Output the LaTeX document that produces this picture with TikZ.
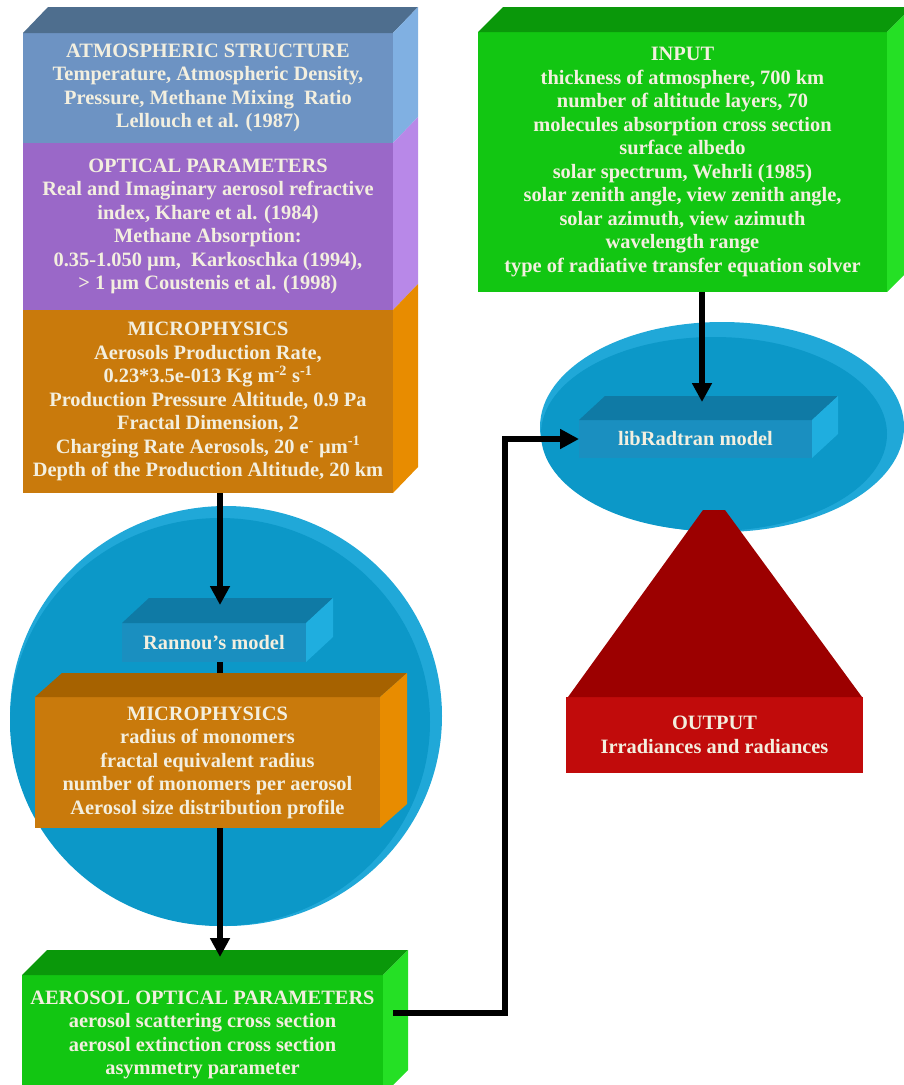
\documentclass[tikz,border=0pt]{standalone}
\usepackage{fontspec}
\setmainfont{Liberation Serif}
\usepackage{xcolor}
\definecolor{creamText}{HTML}{F3EFDF}
\definecolor{atmFront}{HTML}{6D93C3}
\definecolor{atmTop}{HTML}{4E6E8E}
\definecolor{atmSide}{HTML}{80B0E2}
\definecolor{optFront}{HTML}{9A68C8}
\definecolor{optSide}{HTML}{B888E8}
\definecolor{micFront}{HTML}{C97A0C}
\definecolor{micTop}{HTML}{A66200}
\definecolor{micSide}{HTML}{E88C00}
\definecolor{modFront}{HTML}{1A8FC0}
\definecolor{modTop}{HTML}{0F7AA5}
\definecolor{modSide}{HTML}{1FAEDF}
\definecolor{grnFront}{HTML}{12C612}
\definecolor{grnTop}{HTML}{0A980A}
\definecolor{grnSide}{HTML}{25E025}
\definecolor{discBlue}{HTML}{0C98C8}
\definecolor{discRim}{HTML}{20A8D8}
\definecolor{outTri}{HTML}{9C0000}
\definecolor{outRect}{HTML}{C10B0B}
\usepackage{tikz}
\usetikzlibrary{positioning,calc,arrows.meta}
\tikzset{%
  faceBox/.style={%
    rectangle,
    inner sep=0pt,
    outer sep=0pt,
    text=creamText,
    font=\fontsize{20.4}{23.5}\selectfont\bfseries,
    align=center
  },
  arrowLine/.style={%
    -{Triangle[length=19pt,width=19pt]},
    line width=5.5pt,
    color=black
  },
  plainLine/.style={%
    line width=5.5pt,
    color=black
  }
}
% top and side faces of a box: node, dx, dy, top colour, side colour
\newcommand{\boxdepth}[5]{%
  \fill[#4] (#1.north west) -- ++(#2,-#3) -- ($(#1.north east)+(#2,-#3)$) -- (#1.north east) -- cycle;
  \fill[#5] (#1.north east) -- ++(#2,-#3) -- ($(#1.south east)+(#2,-#3)$) -- (#1.south east) -- cycle;
}
\newcommand{\boxside}[4]{%
  \fill[#4] (#1.north east) -- ++(#2,-#3) -- ($(#1.south east)+(#2,-#3)$) -- (#1.south east) -- cycle;
}

\begin{document}
\begin{tikzpicture}[x=1pt,y=-1pt]
  \useasboundingbox (0,0) rectangle (903,1085);

  % discs behind the models
  \fill[discRim] (226,716) ellipse [x radius=216, y radius=210];
  \fill[discBlue] (220,722) ellipse [x radius=210, y radius=204];
  \fill[discRim] (722,427) ellipse [x radius=182, y radius=105];
  \fill[discBlue] (714,434) ellipse [x radius=173, y radius=97];

  % left stack
  \node[faceBox, fill=atmFront, minimum width=370pt, minimum height=110pt] (atmos) at (208,88)
    {ATMOSPHERIC STRUCTURE\\Temperature, Atmospheric Density,\\Pressure, Methane Mixing\ \ Ratio\\Lellouch et al. (1987)};
  \node[faceBox, fill=optFront, minimum width=370pt, minimum height=167pt, below=0pt of atmos] (optical)
    {OPTICAL PARAMETERS\\Real and Imaginary aerosol refractive\\index, Khare et al. (1984)\\Methane Absorption:\\0.35-1.050 µm,\ \ Karkoschka (1994),\\> 1 µm Coustenis et al. (1998)};
  \node[faceBox, fill=micFront, minimum width=370pt, minimum height=183pt, below=0pt of optical] (micro)
    {MICROPHYSICS\\Aerosols Production Rate,\\0.23*3.5e-013 Kg m\textsuperscript{-2} s\textsuperscript{-1}\\Production Pressure Altitude, 0.9 Pa\\Fractal Dimension, 2\\Charging Rate Aerosols, 20 e\textsuperscript{-} µm\textsuperscript{-1}\\Depth of the Production Altitude, 20 km};
  \boxdepth{atmos}{25}{26}{atmTop}{atmSide}
  \boxside{optical}{25}{26}{optSide}
  \boxside{micro}{25}{26}{micSide}

  % Rannou's model and its output
  \node[faceBox, fill=modFront, minimum width=184pt, minimum height=39pt] (rannou) at (214,642.5) {Rannou’s model};
  \boxdepth{rannou}{27}{25}{modTop}{modSide}
  \node[faceBox, fill=micFront, minimum width=345pt, minimum height=131pt] (microB) at (207.5,762.5)
    {MICROPHYSICS\\radius of monomers\\fractal equivalent radius\\number of monomers per aerosol\\Aerosol size distribution profile};
  \boxdepth{microB}{27}{24}{micTop}{micSide}
  \node[faceBox, fill=grnFront, minimum width=361pt, minimum height=120pt] (aerosol) at (202.5,1035)
    {AEROSOL OPTICAL PARAMETERS\\aerosol scattering cross section\\aerosol extinction cross section\\asymmetry parameter};
  \boxdepth{aerosol}{25}{25}{grnTop}{grnSide}

  % right column
  \node[faceBox, fill=grnFront, minimum width=409pt, minimum height=260pt] (input) at (682.5,162)
    {INPUT\\thickness of atmosphere, 700 km\\number of altitude layers, 70\\molecules absorption cross section\\surface albedo\\solar spectrum, Wehrli (1985)\\solar zenith angle, view zenith angle,\\solar azimuth, view azimuth\\wavelength range\\type of radiative transfer equation solver};
  \boxdepth{input}{25}{25}{grnTop}{grnSide}
  \node[faceBox, fill=modFront, minimum width=233pt, minimum height=38pt] (libr) at (695.5,439) {libRadtran model};
  \boxdepth{libr}{26}{24}{modTop}{modSide}
  \node[faceBox, fill=outRect, minimum width=297pt, minimum height=76pt] (output) at (714.5,735)
    {OUTPUT\\Irradiances and radiances};
  \fill[outTri] ($(output.north west)+(2,0)$) -- (703,510) -- (725,510) -- ($(output.north east)+(-1,0)$) -- cycle;

  % connectors
  \coordinate (lcol) at (220,0);
  \coordinate (rcol) at (702,0);
  \coordinate (elbow) at (505,0);
  \draw[arrowLine] (micro.south -| lcol) -- ($(rannou.north -| lcol)+(0,-18)$);
  \draw[plainLine] (rannou.south -| lcol) -- ($(microB.north -| lcol)+(0,-24)$);
  \draw[arrowLine] (microB.south -| lcol) -- ($(aerosol.north -| lcol)+(0,-18)$);
  \draw[arrowLine] (input.south -| rcol) -- ($(libr.north -| rcol)+(0,-18)$);
  \draw[arrowLine] ($(aerosol.north east)+(10,38)$) -| (elbow |- libr.west) -- (libr.west);
\end{tikzpicture}
\end{document}
